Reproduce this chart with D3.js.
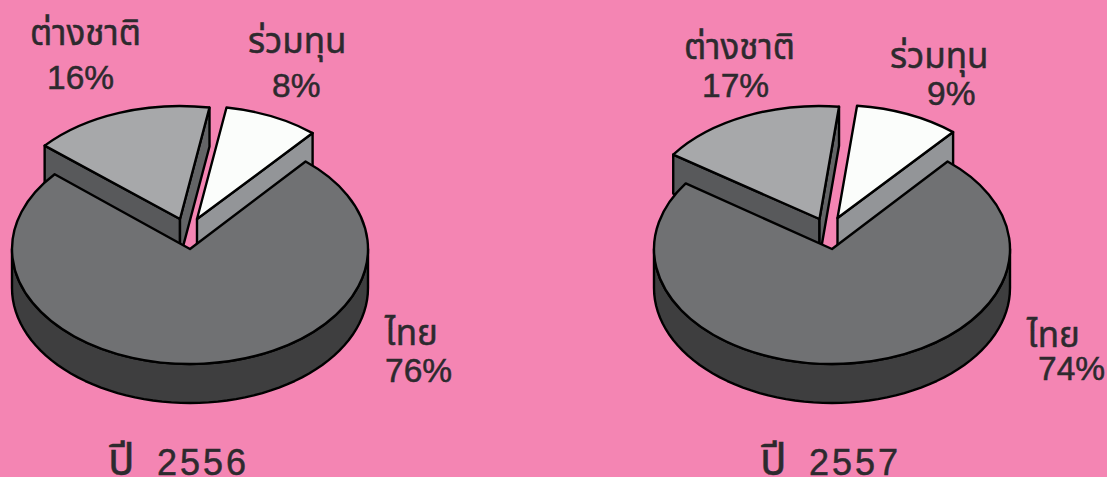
<!DOCTYPE html>
<html>
<head>
<meta charset="utf-8">
<script src="https://cdn.jsdelivr.net/npm/d3@7/dist/d3.min.js"></script>
<style>
    html, body { margin: 0; padding: 0; background: #f485b3; }
    svg { display: block; }
    text { font-family: "Liberation Sans", "Noto Sans Thai", "Noto Sans", sans-serif; fill: #2d2a2e; stroke: #2d2a2e; stroke-width: 0.5; }
    .face, .wall { stroke: #000; stroke-width: 2.4; stroke-linejoin: round; }
    .face { vector-effect: non-scaling-stroke; }
</style>
</head>
<body>
<svg id="chart" width="1107" height="477"></svg>
<script>
    var categories = ['ไทย', 'ต่างชาติ', 'ร่วมทุน'];
    var yearWord = 'ปี';
    var years = ['2556', '2557'];

    // printed percentages
    var percent2556 = [76, 16, 8];
    var percent2557 = [74, 17, 9];

    // slice shares as actually drawn in the picture (they differ from the printed numbers)
    var drawn2556 = [75, 16.4, 8.6];
    var drawn2557 = [73.4, 17.1, 9.5];

    var topColors = ['#707173', '#a7a8aa', '#fbfdfb'];
    var rimColors = ['#3e3e3f', '#58595b', '#939598'];
    var cutColors = ['#3e3e3f', '#636466', '#939598'];

    var rx = 178, depth = 39;
    var sliceRy = [115, 113, 113];
    var startDeg = 40.5;

    var svg = d3.select('#chart');

    // ellipse projection: angle is clockwise from 12 o'clock, like d3.pie
    function project(angle, ry) {
        return [
            rx * Math.sin(angle),
            -ry * Math.cos(angle)
        ];
    }

    var line = d3.line();

    function drawWalls($g, slice, i) {
        var a0 = slice.startAngle,
            a1 = slice.endAngle,
            ry = sliceRy[i];

        if (i === 0) {
            // the big slice only shows its curved front
            var from = Math.max(a0, Math.PI / 2),
                to = Math.min(a1, Math.PI * 1.5),
                upper = d3.range(0, 61).map(function (k) {
                    return project(from + (to - from) * k / 60, ry);
                }),
                lower = upper.slice().reverse().map(function (p) {
                    return [p[0], p[1] + depth];
                });

            $g.append('path')
                .attr('class', 'wall')
                .attr('fill', rimColors[i])
                .attr('d', line(upper.concat(lower)) + 'Z');
            return;
        }

        var cuts = i === 1 ? [a0, a1] : [a1];

        cuts.forEach(function (a) {
            var p = project(a, ry);
            $g.append('path')
                .attr('class', 'wall')
                .attr('fill', a === a0 ? rimColors[i] : cutColors[i])
                .attr('d', line([[0, 0], p, [p[0], p[1] + depth], [0, depth]]) + 'Z');
        });
    }

    function drawPie(cfg) {
        var pie = d3.pie()
            .sort(null)
            .value(function (d) { return d; })
            .startAngle(startDeg * Math.PI / 180)
            .endAngle((startDeg + 360) * Math.PI / 180);

        var arc = d3.arc()
            .innerRadius(0)
            .outerRadius(rx);

        var slices = pie(cfg.drawn);

        // back slices first, the big one sits in front of them
        [1, 2, 0].forEach(function (i) {
            var $g = svg.append('g')
                .attr('transform', 'translate(' + (cfg.cx + cfg.offsets[i][0]) + ',' + (cfg.cy + cfg.offsets[i][1]) + ')');

            drawWalls($g, slices[i], i);

            $g.append('g')
                .attr('transform', 'scale(1,' + (sliceRy[i] / rx) + ')')
                .append('path')
                .attr('class', 'face')
                .attr('fill', topColors[i])
                .attr('d', arc(slices[i]));
        });

        categories.forEach(function (name, i) {
            svg.append('text')
                .attr('x', cfg.labels[i][0])
                .attr('y', cfg.labels[i][1])
                .attr('font-size', 35)
                .text(name);

            svg.append('text')
                .attr('x', cfg.labels[i][2])
                .attr('y', cfg.labels[i][3])
                .attr('font-size', 33.5)
                .text(cfg.percent[i] + '%');
        });

        var $title = svg.append('text')
            .attr('x', cfg.titleX)
            .attr('y', 475);

        $title.append('tspan')
            .attr('font-size', 44)
            .text(yearWord);

        $title.append('tspan')
            .attr('x', cfg.titleX + 49)
            .attr('font-size', 36)
            .attr('letter-spacing', 3)
            .text(cfg.title);
    }

    drawPie({
        cx: 190, cy: 249,
        drawn: drawn2556,
        percent: percent2556,
        title: years[0],
        titleX: 108,
        offsets: [[0, 0], [-10, -30], [7, -30]],
        labels: [[385, 345, 385, 382], [30, 45, 47, 89], [248, 53, 272, 97]]
    });

    drawPie({
        cx: 832, cy: 249,
        drawn: drawn2557,
        percent: percent2557,
        title: years[1],
        titleX: 760,
        offsets: [[0, 0], [-12.5, -30], [5.5, -31]],
        labels: [[1027, 347, 1038, 380], [684, 59, 702, 97], [890, 68, 927, 105]]
    });
</script>
</body>
</html>
